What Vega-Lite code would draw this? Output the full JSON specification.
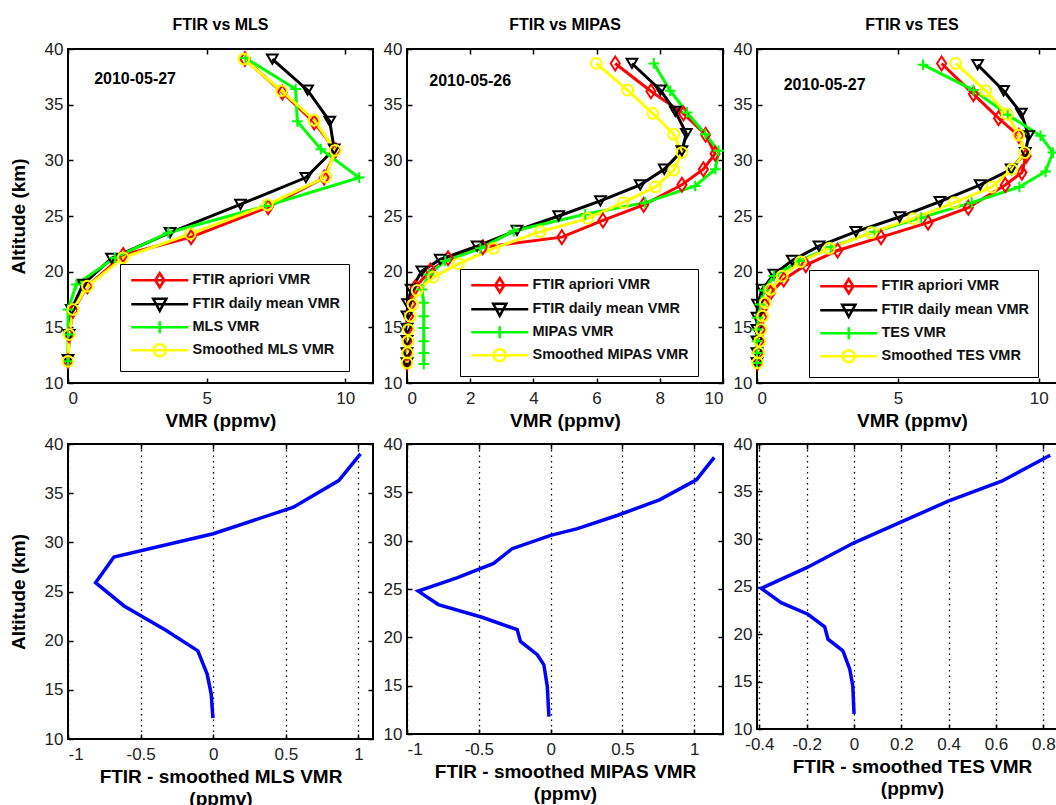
{
"$schema": "https://vega.github.io/schema/vega-lite/v6.json",
"background": "white",
"padding": {"left": 8, "top": 16, "right": 0, "bottom": 0},
"config": {
 "font": "Liberation Sans",
 "view": {"stroke": "black", "strokeWidth": 2},
 "axis": {"domain": false, "labelFont": "Liberation Sans", "labelFontSize": 17, "labelColor": "#222", "tickColor": "black", "tickSize": -5, "tickWidth": 1.5, "titleFont": "Liberation Sans", "titleFontSize": 19, "titleFontWeight": "bold", "titleColor": "black", "grid": false},
 "axisX": {"grid": true, "gridColor": "black", "gridDash": [1.5, 4], "gridWidth": 1.3, "labelPadding": 12, "titlePadding": 5, "titleLineHeight": 22},
 "axisY": {"labelPadding": 10, "titlePadding": 16},
 "title": {"font": "Liberation Sans", "fontSize": 16, "fontWeight": "bold", "color": "black", "offset": 7},
 "legend": {"labelFont": "Liberation Sans", "labelFontSize": 14.5, "labelFontWeight": "bold", "labelColor": "#111", "labelLimit": 400, "strokeColor": "black", "fillColor": "white", "padding": 9, "symbolSize": 100, "symbolStrokeWidth": 2.6, "symbolOpacity": 1, "labelOffset": 49, "rowPadding": 0}
},
"datasets": {
 "mls": [
  {"s":"FTIR apriori VMR","alt":39.1,"v":6.38},{"s":"FTIR apriori VMR","alt":36.1,"v":7.73},{"s":"FTIR apriori VMR","alt":33.4,"v":8.88},{"s":"FTIR apriori VMR","alt":30.9,"v":9.66},{"s":"FTIR apriori VMR","alt":28.45,"v":9.24},{"s":"FTIR apriori VMR","alt":25.8,"v":7.22},{"s":"FTIR apriori VMR","alt":23.1,"v":4.44},{"s":"FTIR apriori VMR","alt":21.5,"v":1.99},{"s":"FTIR apriori VMR","alt":18.7,"v":0.7},{"s":"FTIR apriori VMR","alt":16.5,"v":0.18},{"s":"FTIR apriori VMR","alt":14.3,"v":0.04},{"s":"FTIR apriori VMR","alt":11.95,"v":0.0},
  {"s":"FTIR daily mean VMR","alt":39.1,"v":7.37},{"s":"FTIR daily mean VMR","alt":36.3,"v":8.64},{"s":"FTIR daily mean VMR","alt":33.5,"v":9.44},{"s":"FTIR daily mean VMR","alt":31.0,"v":9.6},{"s":"FTIR daily mean VMR","alt":28.45,"v":8.58},{"s":"FTIR daily mean VMR","alt":26.05,"v":6.22},{"s":"FTIR daily mean VMR","alt":23.5,"v":3.68},{"s":"FTIR daily mean VMR","alt":21.2,"v":1.57},{"s":"FTIR daily mean VMR","alt":18.85,"v":0.54},{"s":"FTIR daily mean VMR","alt":16.6,"v":0.12},{"s":"FTIR daily mean VMR","alt":14.35,"v":0.04},{"s":"FTIR daily mean VMR","alt":12.1,"v":0.0},
  {"s":"MLS VMR","alt":39.2,"v":6.4},{"s":"MLS VMR","alt":36.4,"v":8.21},{"s":"MLS VMR","alt":33.5,"v":8.27},{"s":"MLS VMR","alt":31.0,"v":9.12},{"s":"MLS VMR","alt":28.45,"v":10.5},{"s":"MLS VMR","alt":25.9,"v":7.13},{"s":"MLS VMR","alt":23.5,"v":3.62},{"s":"MLS VMR","alt":21.25,"v":1.69},{"s":"MLS VMR","alt":18.85,"v":0.3},{"s":"MLS VMR","alt":16.6,"v":0.0},{"s":"MLS VMR","alt":14.35,"v":0.0},{"s":"MLS VMR","alt":11.95,"v":0.0},
  {"s":"Smoothed MLS VMR","alt":39.1,"v":6.34},{"s":"Smoothed MLS VMR","alt":36.25,"v":7.7},{"s":"Smoothed MLS VMR","alt":33.6,"v":8.88},{"s":"Smoothed MLS VMR","alt":30.9,"v":9.64},{"s":"Smoothed MLS VMR","alt":28.5,"v":9.3},{"s":"Smoothed MLS VMR","alt":26.0,"v":7.19},{"s":"Smoothed MLS VMR","alt":23.4,"v":4.41},{"s":"Smoothed MLS VMR","alt":21.25,"v":1.99},{"s":"Smoothed MLS VMR","alt":18.7,"v":0.7},{"s":"Smoothed MLS VMR","alt":16.6,"v":0.18},{"s":"Smoothed MLS VMR","alt":14.35,"v":0.04},{"s":"Smoothed MLS VMR","alt":11.95,"v":0.0}
 ],
 "mipas": [
  {"s":"FTIR apriori VMR","alt":38.7,"v":6.59},{"s":"FTIR apriori VMR","alt":36.2,"v":7.72},{"s":"FTIR apriori VMR","alt":34.2,"v":8.75},{"s":"FTIR apriori VMR","alt":32.3,"v":9.45},{"s":"FTIR apriori VMR","alt":30.6,"v":9.75},{"s":"FTIR apriori VMR","alt":29.2,"v":9.38},{"s":"FTIR apriori VMR","alt":27.8,"v":8.7},{"s":"FTIR apriori VMR","alt":26.0,"v":7.49},{"s":"FTIR apriori VMR","alt":24.6,"v":6.2},{"s":"FTIR apriori VMR","alt":23.1,"v":4.9},{"s":"FTIR apriori VMR","alt":22.2,"v":2.4},{"s":"FTIR apriori VMR","alt":21.2,"v":1.3},{"s":"FTIR apriori VMR","alt":20.1,"v":0.74},{"s":"FTIR apriori VMR","alt":18.6,"v":0.26},{"s":"FTIR apriori VMR","alt":17.1,"v":0.12},{"s":"FTIR apriori VMR","alt":16.0,"v":0.05},{"s":"FTIR apriori VMR","alt":14.9,"v":0.02},{"s":"FTIR apriori VMR","alt":13.8,"v":0.01},{"s":"FTIR apriori VMR","alt":12.7,"v":0.0},{"s":"FTIR apriori VMR","alt":11.8,"v":0.0},
  {"s":"FTIR daily mean VMR","alt":38.7,"v":7.12},{"s":"FTIR daily mean VMR","alt":36.3,"v":8.02},{"s":"FTIR daily mean VMR","alt":34.4,"v":8.49},{"s":"FTIR daily mean VMR","alt":32.4,"v":8.84},{"s":"FTIR daily mean VMR","alt":30.85,"v":8.7},{"s":"FTIR daily mean VMR","alt":29.2,"v":8.14},{"s":"FTIR daily mean VMR","alt":27.8,"v":7.38},{"s":"FTIR daily mean VMR","alt":26.35,"v":6.12},{"s":"FTIR daily mean VMR","alt":25.0,"v":4.8},{"s":"FTIR daily mean VMR","alt":23.7,"v":3.48},{"s":"FTIR daily mean VMR","alt":22.3,"v":2.22},{"s":"FTIR daily mean VMR","alt":21.1,"v":1.05},{"s":"FTIR daily mean VMR","alt":20.05,"v":0.47},{"s":"FTIR daily mean VMR","alt":18.4,"v":0.13},{"s":"FTIR daily mean VMR","alt":17.1,"v":0.02},{"s":"FTIR daily mean VMR","alt":16.0,"v":0.0},{"s":"FTIR daily mean VMR","alt":14.9,"v":0.0},{"s":"FTIR daily mean VMR","alt":13.8,"v":0.0},{"s":"FTIR daily mean VMR","alt":12.7,"v":0.0},{"s":"FTIR daily mean VMR","alt":11.8,"v":0.0},
  {"s":"MIPAS VMR","alt":38.7,"v":7.81},{"s":"MIPAS VMR","alt":36.25,"v":8.33},{"s":"MIPAS VMR","alt":34.3,"v":8.86},{"s":"MIPAS VMR","alt":32.35,"v":9.44},{"s":"MIPAS VMR","alt":30.85,"v":9.86},{"s":"MIPAS VMR","alt":29.2,"v":9.76},{"s":"MIPAS VMR","alt":27.7,"v":9.12},{"s":"MIPAS VMR","alt":26.2,"v":7.54},{"s":"MIPAS VMR","alt":25.15,"v":5.64},{"s":"MIPAS VMR","alt":23.65,"v":3.38},{"s":"MIPAS VMR","alt":22.1,"v":2.32},{"s":"MIPAS VMR","alt":20.95,"v":1.21},{"s":"MIPAS VMR","alt":19.75,"v":0.69},{"s":"MIPAS VMR","alt":18.4,"v":0.47},{"s":"MIPAS VMR","alt":17.2,"v":0.53},{"s":"MIPAS VMR","alt":16.0,"v":0.53},{"s":"MIPAS VMR","alt":14.95,"v":0.53},{"s":"MIPAS VMR","alt":13.75,"v":0.53},{"s":"MIPAS VMR","alt":12.7,"v":0.53},{"s":"MIPAS VMR","alt":11.7,"v":0.53},
  {"s":"Smoothed MIPAS VMR","alt":38.71,"v":5.99},{"s":"Smoothed MIPAS VMR","alt":36.31,"v":6.98},{"s":"Smoothed MIPAS VMR","alt":34.21,"v":7.78},{"s":"Smoothed MIPAS VMR","alt":32.35,"v":8.44},{"s":"Smoothed MIPAS VMR","alt":30.7,"v":8.7},{"s":"Smoothed MIPAS VMR","alt":29.11,"v":8.44},{"s":"Smoothed MIPAS VMR","alt":27.61,"v":7.86},{"s":"Smoothed MIPAS VMR","alt":26.2,"v":6.84},{"s":"Smoothed MIPAS VMR","alt":24.79,"v":5.72},{"s":"Smoothed MIPAS VMR","alt":23.59,"v":4.22},{"s":"Smoothed MIPAS VMR","alt":22.09,"v":2.74},{"s":"Smoothed MIPAS VMR","alt":20.71,"v":1.63},{"s":"Smoothed MIPAS VMR","alt":19.51,"v":0.84},{"s":"Smoothed MIPAS VMR","alt":18.31,"v":0.32},{"s":"Smoothed MIPAS VMR","alt":17.05,"v":0.19},{"s":"Smoothed MIPAS VMR","alt":16.0,"v":0.11},{"s":"Smoothed MIPAS VMR","alt":14.8,"v":0.05},{"s":"Smoothed MIPAS VMR","alt":13.75,"v":0.03},{"s":"Smoothed MIPAS VMR","alt":12.7,"v":0.02},{"s":"Smoothed MIPAS VMR","alt":11.8,"v":0.0}
 ],
 "tes": [
  {"s":"FTIR apriori VMR","alt":38.7,"v":6.55},{"s":"FTIR apriori VMR","alt":35.95,"v":7.68},{"s":"FTIR apriori VMR","alt":33.79,"v":8.57},{"s":"FTIR apriori VMR","alt":32.2,"v":9.29},{"s":"FTIR apriori VMR","alt":30.4,"v":9.55},{"s":"FTIR apriori VMR","alt":28.9,"v":9.4},{"s":"FTIR apriori VMR","alt":27.79,"v":8.81},{"s":"FTIR apriori VMR","alt":25.75,"v":7.5},{"s":"FTIR apriori VMR","alt":24.4,"v":6.07},{"s":"FTIR apriori VMR","alt":23.1,"v":4.4},{"s":"FTIR apriori VMR","alt":21.9,"v":2.86},{"s":"FTIR apriori VMR","alt":20.59,"v":1.73},{"s":"FTIR apriori VMR","alt":19.3,"v":0.95},{"s":"FTIR apriori VMR","alt":18.1,"v":0.48},{"s":"FTIR apriori VMR","alt":17.0,"v":0.28},{"s":"FTIR apriori VMR","alt":15.9,"v":0.18},{"s":"FTIR apriori VMR","alt":14.8,"v":0.12},{"s":"FTIR apriori VMR","alt":13.75,"v":0.08},{"s":"FTIR apriori VMR","alt":12.7,"v":0.05},{"s":"FTIR apriori VMR","alt":11.8,"v":0.02},
  {"s":"FTIR daily mean VMR","alt":38.59,"v":7.83},{"s":"FTIR daily mean VMR","alt":36.25,"v":8.75},{"s":"FTIR daily mean VMR","alt":34.21,"v":9.38},{"s":"FTIR daily mean VMR","alt":32.2,"v":9.64},{"s":"FTIR daily mean VMR","alt":30.7,"v":9.52},{"s":"FTIR daily mean VMR","alt":29.2,"v":9.02},{"s":"FTIR daily mean VMR","alt":27.79,"v":7.92},{"s":"FTIR daily mean VMR","alt":26.29,"v":6.49},{"s":"FTIR daily mean VMR","alt":24.91,"v":5.06},{"s":"FTIR daily mean VMR","alt":23.59,"v":3.51},{"s":"FTIR daily mean VMR","alt":22.3,"v":2.2},{"s":"FTIR daily mean VMR","alt":21.01,"v":1.25},{"s":"FTIR daily mean VMR","alt":19.75,"v":0.6},{"s":"FTIR daily mean VMR","alt":18.4,"v":0.18},{"s":"FTIR daily mean VMR","alt":17.05,"v":0.02},{"s":"FTIR daily mean VMR","alt":15.9,"v":0.0},{"s":"FTIR daily mean VMR","alt":14.8,"v":0.0},{"s":"FTIR daily mean VMR","alt":13.75,"v":0.0},{"s":"FTIR daily mean VMR","alt":12.7,"v":0.0},{"s":"FTIR daily mean VMR","alt":11.8,"v":0.0},
  {"s":"TES VMR","alt":38.59,"v":5.89},{"s":"TES VMR","alt":36.31,"v":7.68},{"s":"TES VMR","alt":34.09,"v":8.9},{"s":"TES VMR","alt":32.2,"v":10.06},{"s":"TES VMR","alt":30.7,"v":10.5},{"s":"TES VMR","alt":28.99,"v":10.24},{"s":"TES VMR","alt":27.61,"v":9.31},{"s":"TES VMR","alt":26.2,"v":7.62},{"s":"TES VMR","alt":24.85,"v":5.83},{"s":"TES VMR","alt":23.59,"v":4.17},{"s":"TES VMR","alt":22.21,"v":2.62},{"s":"TES VMR","alt":20.95,"v":1.49},{"s":"TES VMR","alt":19.6,"v":0.6},{"s":"TES VMR","alt":18.31,"v":0.24},{"s":"TES VMR","alt":17.05,"v":0.1},{"s":"TES VMR","alt":15.85,"v":0.02},{"s":"TES VMR","alt":14.8,"v":0.0},{"s":"TES VMR","alt":13.75,"v":0.0},{"s":"TES VMR","alt":12.7,"v":0.0},{"s":"TES VMR","alt":11.8,"v":0.0},
  {"s":"Smoothed TES VMR","alt":38.7,"v":7.05},{"s":"Smoothed TES VMR","alt":36.25,"v":8.12},{"s":"Smoothed TES VMR","alt":34.15,"v":8.87},{"s":"Smoothed TES VMR","alt":32.26,"v":9.29},{"s":"Smoothed TES VMR","alt":30.7,"v":9.5},{"s":"Smoothed TES VMR","alt":29.2,"v":9.05},{"s":"Smoothed TES VMR","alt":27.6,"v":8.33},{"s":"Smoothed TES VMR","alt":26.2,"v":7.0},{"s":"Smoothed TES VMR","alt":24.76,"v":5.54},{"s":"Smoothed TES VMR","alt":23.5,"v":4.05},{"s":"Smoothed TES VMR","alt":22.09,"v":2.56},{"s":"Smoothed TES VMR","alt":20.89,"v":1.55},{"s":"Smoothed TES VMR","alt":19.6,"v":0.89},{"s":"Smoothed TES VMR","alt":18.4,"v":0.48},{"s":"Smoothed TES VMR","alt":17.2,"v":0.3},{"s":"Smoothed TES VMR","alt":16.0,"v":0.2},{"s":"Smoothed TES VMR","alt":14.8,"v":0.14},{"s":"Smoothed TES VMR","alt":13.75,"v":0.1},{"s":"Smoothed TES VMR","alt":12.7,"v":0.06},{"s":"Smoothed TES VMR","alt":11.8,"v":0.02}
 ],
 "dmls": [
  {"alt":38.99,"v":1.014},{"alt":36.28,"v":0.864},{"alt":33.57,"v":0.552},{"alt":30.87,"v":0.0},{"alt":28.5,"v":-0.684},{"alt":25.9,"v":-0.81},{"alt":23.53,"v":-0.614},{"alt":21.06,"v":-0.326},{"alt":18.97,"v":-0.106},{"alt":16.6,"v":-0.042},{"alt":14.57,"v":-0.014},{"alt":12.13,"v":-0.002}
 ],
 "dmipas": [
  {"alt":38.62,"v":1.139},{"alt":36.3,"v":1.015},{"alt":34.22,"v":0.758},{"alt":32.63,"v":0.467},{"alt":31.25,"v":0.187},{"alt":30.55,"v":0.0},{"alt":29.17,"v":-0.268},{"alt":27.65,"v":-0.397},{"alt":26.16,"v":-0.653},{"alt":24.78,"v":-0.922},{"alt":23.39,"v":-0.782},{"alt":22.08,"v":-0.478},{"alt":20.8,"v":-0.233},{"alt":19.58,"v":-0.21},{"alt":18.2,"v":-0.093},{"alt":17.16,"v":-0.047},{"alt":14.9,"v":-0.023},{"alt":11.8,"v":-0.012}
 ],
 "dtes": [
  {"alt":38.81,"v":0.829},{"alt":36.08,"v":0.624},{"alt":33.98,"v":0.398},{"alt":31.8,"v":0.2},{"alt":29.6,"v":0.0},{"alt":26.98,"v":-0.2},{"alt":24.81,"v":-0.392},{"alt":23.3,"v":-0.308},{"alt":22.08,"v":-0.195},{"alt":20.75,"v":-0.124},{"alt":19.45,"v":-0.11},{"alt":18.23,"v":-0.047},{"alt":16.3,"v":-0.018},{"alt":14.5,"v":-0.005},{"alt":11.58,"v":0.0}
 ]
},
"columns": 3,
"spacing": {"row": 61, "column": 34},
"bounds": "flush",
"resolve": {"scale": {"color": "independent", "shape": "independent"}, "legend": {"color": "independent", "shape": "independent"}},
"concat": [
 {
  "width": 305, "height": 334,
  "title": {"text": "FTIR vs MLS"},
  "data": {"name": "mls"},
  "resolve": {"axis": {"x": "independent", "y": "independent"}},
  "layer": [
   {"mark": {"type": "point", "filled": false, "opacity": 0},
    "encoding": {
     "x": {"field": "v", "type": "quantitative", "axis": null},
     "y": {"field": "alt", "type": "quantitative", "axis": null},
     "color": {"field": "s", "type": "nominal", "legend": {"orient": "none", "legendX": 52, "legendY": 215, "direction": "vertical", "title": null, "symbolOpacity": 1}},
     "shape": {"field": "s", "type": "nominal", "scale": {"domain": ["FTIR apriori VMR", "FTIR daily mean VMR", "MLS VMR", "Smoothed MLS VMR"], "range": ["M-1,0H10.4M4.7,-1.4L5.6,0L4.7,1.4L3.8,0Z", "M-1,0H10.4M3.4,-1.1H6L4.7,1.3Z", "M-1,0H10.4M4.7,-1.2V1.2", "M-1,0H10.4M5.9,0A1.2,1.2,0,1,1,3.5,0A1.2,1.2,0,1,1,5.9,0"]}, "legend": {"orient": "none", "legendX": 52, "legendY": 215, "direction": "vertical", "title": null, "symbolOpacity": 1}}
    }},
   {"mark": {"type": "line", "strokeWidth": 3},
    "encoding": {
     "x": {"field": "v", "type": "quantitative", "scale": {"domain": [0, 11], "nice": false, "zero": false}, "axis": {"values": [0, 5, 10], "title": "VMR (ppmv)"}},
     "y": {"field": "alt", "type": "quantitative", "scale": {"domain": [10, 40], "nice": false, "zero": false}, "axis": {"values": [10, 15, 20, 25, 30, 35, 40], "title": "Altitude (km)"}},
     "order": {"field": "alt", "type": "quantitative"},
     "color": {"field": "s", "type": "nominal", "scale": {"domain": ["FTIR apriori VMR", "FTIR daily mean VMR", "MLS VMR", "Smoothed MLS VMR"], "range": ["#ff0000", "#000000", "#00ff00", "#ffff00"]}}
    }},
   {"transform": [{"filter": {"field": "s", "equal": "FTIR apriori VMR"}}],
    "mark": {"type": "point", "filled": false, "strokeWidth": 2, "size": 115, "opacity": 1, "color": "#ff0000", "shape": "M0,-1.3L0.85,0L0,1.3L-0.85,0Z"},
    "encoding": {"x": {"field": "v", "type": "quantitative", "axis": null}, "y": {"field": "alt", "type": "quantitative", "axis": null}}},
   {"transform": [{"filter": {"field": "s", "equal": "FTIR daily mean VMR"}}],
    "mark": {"type": "point", "filled": false, "strokeWidth": 2, "size": 115, "opacity": 1, "color": "#000000", "shape": "triangle-down"},
    "encoding": {"x": {"field": "v", "type": "quantitative", "axis": null}, "y": {"field": "alt", "type": "quantitative", "axis": null}}},
   {"transform": [{"filter": {"field": "s", "equal": "MLS VMR"}}],
    "mark": {"type": "point", "filled": false, "strokeWidth": 2, "size": 115, "opacity": 1, "color": "#00ff00", "shape": "M-1,0H1M0,-1V1"},
    "encoding": {"x": {"field": "v", "type": "quantitative", "axis": null}, "y": {"field": "alt", "type": "quantitative", "axis": null}}},
   {"transform": [{"filter": {"field": "s", "equal": "Smoothed MLS VMR"}}],
    "mark": {"type": "point", "filled": false, "strokeWidth": 2, "size": 115, "opacity": 1, "color": "#ffff00", "shape": "circle"},
    "encoding": {"x": {"field": "v", "type": "quantitative", "axis": null}, "y": {"field": "alt", "type": "quantitative", "axis": null}}},
   {"data": {"values": [{"t": "2010-05-27"}]},
    "mark": {"type": "text", "fontWeight": "bold", "fontSize": 16, "font": "Liberation Sans", "color": "black", "align": "center", "baseline": "middle"},
    "encoding": {"x": {"datum": 2.42, "type": "quantitative", "axis": {"orient": "top", "labels": false, "title": null, "grid": false, "values": [0, 5, 10]}}, "y": {"datum": 37.3, "type": "quantitative", "axis": {"orient": "right", "labels": false, "title": null, "values": [10, 15, 20, 25, 30, 35, 40]}}, "text": {"field": "t"}}}
  ]
 },
 {
  "width": 316, "height": 334,
  "title": {"text": "FTIR vs MIPAS"},
  "data": {"name": "mipas"},
  "resolve": {"axis": {"x": "independent", "y": "independent"}},
  "layer": [
   {"mark": {"type": "point", "filled": false, "opacity": 0},
    "encoding": {
     "x": {"field": "v", "type": "quantitative", "axis": null},
     "y": {"field": "alt", "type": "quantitative", "axis": null},
     "color": {"field": "s", "type": "nominal", "legend": {"orient": "none", "legendX": 53, "legendY": 220, "direction": "vertical", "title": null, "symbolOpacity": 1}},
     "shape": {"field": "s", "type": "nominal", "scale": {"domain": ["FTIR apriori VMR", "FTIR daily mean VMR", "MIPAS VMR", "Smoothed MIPAS VMR"], "range": ["M-1,0H10.4M4.7,-1.4L5.6,0L4.7,1.4L3.8,0Z", "M-1,0H10.4M3.4,-1.1H6L4.7,1.3Z", "M-1,0H10.4M4.7,-1.2V1.2", "M-1,0H10.4M5.9,0A1.2,1.2,0,1,1,3.5,0A1.2,1.2,0,1,1,5.9,0"]}, "legend": {"orient": "none", "legendX": 53, "legendY": 220, "direction": "vertical", "title": null, "symbolOpacity": 1}}
    }},
   {"mark": {"type": "line", "strokeWidth": 3},
    "encoding": {
     "x": {"field": "v", "type": "quantitative", "scale": {"domain": [0, 10], "nice": false, "zero": false}, "axis": {"values": [0, 2, 4, 6, 8, 10], "title": "VMR (ppmv)"}},
     "y": {"field": "alt", "type": "quantitative", "scale": {"domain": [10, 40], "nice": false, "zero": false}, "axis": {"values": [10, 15, 20, 25, 30, 35, 40], "title": null}},
     "order": {"field": "alt", "type": "quantitative"},
     "color": {"field": "s", "type": "nominal", "scale": {"domain": ["FTIR apriori VMR", "FTIR daily mean VMR", "MIPAS VMR", "Smoothed MIPAS VMR"], "range": ["#ff0000", "#000000", "#00ff00", "#ffff00"]}}
    }},
   {"transform": [{"filter": {"field": "s", "equal": "FTIR apriori VMR"}}],
    "mark": {"type": "point", "filled": false, "strokeWidth": 2, "size": 115, "opacity": 1, "color": "#ff0000", "shape": "M0,-1.3L0.85,0L0,1.3L-0.85,0Z"},
    "encoding": {"x": {"field": "v", "type": "quantitative", "axis": null}, "y": {"field": "alt", "type": "quantitative", "axis": null}}},
   {"transform": [{"filter": {"field": "s", "equal": "FTIR daily mean VMR"}}],
    "mark": {"type": "point", "filled": false, "strokeWidth": 2, "size": 115, "opacity": 1, "color": "#000000", "shape": "triangle-down"},
    "encoding": {"x": {"field": "v", "type": "quantitative", "axis": null}, "y": {"field": "alt", "type": "quantitative", "axis": null}}},
   {"transform": [{"filter": {"field": "s", "equal": "MIPAS VMR"}}],
    "mark": {"type": "point", "filled": false, "strokeWidth": 2, "size": 115, "opacity": 1, "color": "#00ff00", "shape": "M-1,0H1M0,-1V1"},
    "encoding": {"x": {"field": "v", "type": "quantitative", "axis": null}, "y": {"field": "alt", "type": "quantitative", "axis": null}}},
   {"transform": [{"filter": {"field": "s", "equal": "Smoothed MIPAS VMR"}}],
    "mark": {"type": "point", "filled": false, "strokeWidth": 2, "size": 115, "opacity": 1, "color": "#ffff00", "shape": "circle"},
    "encoding": {"x": {"field": "v", "type": "quantitative", "axis": null}, "y": {"field": "alt", "type": "quantitative", "axis": null}}},
   {"data": {"values": [{"t": "2010-05-26"}]},
    "mark": {"type": "text", "fontWeight": "bold", "fontSize": 16, "font": "Liberation Sans", "color": "black", "align": "center", "baseline": "middle"},
    "encoding": {"x": {"datum": 2.0, "type": "quantitative", "axis": {"orient": "top", "labels": false, "title": null, "grid": false, "values": [0, 2, 4, 6, 8, 10]}}, "y": {"datum": 37.1, "type": "quantitative", "axis": {"orient": "right", "labels": false, "title": null, "values": [10, 15, 20, 25, 30, 35, 40]}}, "text": {"field": "t"}}}
  ]
 },
 {
  "width": 310, "height": 334,
  "title": {"text": "FTIR vs TES"},
  "data": {"name": "tes"},
  "resolve": {"axis": {"x": "independent", "y": "independent"}},
  "layer": [
   {"mark": {"type": "point", "filled": false, "opacity": 0},
    "encoding": {
     "x": {"field": "v", "type": "quantitative", "axis": null},
     "y": {"field": "alt", "type": "quantitative", "axis": null},
     "color": {"field": "s", "type": "nominal", "legend": {"orient": "none", "legendX": 52, "legendY": 221, "direction": "vertical", "title": null, "symbolOpacity": 1}},
     "shape": {"field": "s", "type": "nominal", "scale": {"domain": ["FTIR apriori VMR", "FTIR daily mean VMR", "TES VMR", "Smoothed TES VMR"], "range": ["M-1,0H10.4M4.7,-1.4L5.6,0L4.7,1.4L3.8,0Z", "M-1,0H10.4M3.4,-1.1H6L4.7,1.3Z", "M-1,0H10.4M4.7,-1.2V1.2", "M-1,0H10.4M5.9,0A1.2,1.2,0,1,1,3.5,0A1.2,1.2,0,1,1,5.9,0"]}, "legend": {"orient": "none", "legendX": 52, "legendY": 221, "direction": "vertical", "title": null, "symbolOpacity": 1}}
    }},
   {"mark": {"type": "line", "strokeWidth": 3},
    "encoding": {
     "x": {"field": "v", "type": "quantitative", "scale": {"domain": [0, 11], "nice": false, "zero": false}, "axis": {"values": [0, 5, 10], "title": "VMR (ppmv)"}},
     "y": {"field": "alt", "type": "quantitative", "scale": {"domain": [10, 40], "nice": false, "zero": false}, "axis": {"values": [10, 15, 20, 25, 30, 35, 40], "title": null}},
     "order": {"field": "alt", "type": "quantitative"},
     "color": {"field": "s", "type": "nominal", "scale": {"domain": ["FTIR apriori VMR", "FTIR daily mean VMR", "TES VMR", "Smoothed TES VMR"], "range": ["#ff0000", "#000000", "#00ff00", "#ffff00"]}}
    }},
   {"transform": [{"filter": {"field": "s", "equal": "FTIR apriori VMR"}}],
    "mark": {"type": "point", "filled": false, "strokeWidth": 2, "size": 115, "opacity": 1, "color": "#ff0000", "shape": "M0,-1.3L0.85,0L0,1.3L-0.85,0Z"},
    "encoding": {"x": {"field": "v", "type": "quantitative", "axis": null}, "y": {"field": "alt", "type": "quantitative", "axis": null}}},
   {"transform": [{"filter": {"field": "s", "equal": "FTIR daily mean VMR"}}],
    "mark": {"type": "point", "filled": false, "strokeWidth": 2, "size": 115, "opacity": 1, "color": "#000000", "shape": "triangle-down"},
    "encoding": {"x": {"field": "v", "type": "quantitative", "axis": null}, "y": {"field": "alt", "type": "quantitative", "axis": null}}},
   {"transform": [{"filter": {"field": "s", "equal": "TES VMR"}}],
    "mark": {"type": "point", "filled": false, "strokeWidth": 2, "size": 115, "opacity": 1, "color": "#00ff00", "shape": "M-1,0H1M0,-1V1"},
    "encoding": {"x": {"field": "v", "type": "quantitative", "axis": null}, "y": {"field": "alt", "type": "quantitative", "axis": null}}},
   {"transform": [{"filter": {"field": "s", "equal": "Smoothed TES VMR"}}],
    "mark": {"type": "point", "filled": false, "strokeWidth": 2, "size": 115, "opacity": 1, "color": "#ffff00", "shape": "circle"},
    "encoding": {"x": {"field": "v", "type": "quantitative", "axis": null}, "y": {"field": "alt", "type": "quantitative", "axis": null}}},
   {"data": {"values": [{"t": "2010-05-27"}]},
    "mark": {"type": "text", "fontWeight": "bold", "fontSize": 16, "font": "Liberation Sans", "color": "black", "align": "center", "baseline": "middle"},
    "encoding": {"x": {"datum": 2.4, "type": "quantitative", "axis": {"orient": "top", "labels": false, "title": null, "grid": false, "values": [0, 5, 10]}}, "y": {"datum": 36.8, "type": "quantitative", "axis": {"orient": "right", "labels": false, "title": null, "values": [10, 15, 20, 25, 30, 35, 40]}}, "text": {"field": "t"}}}
  ]
 },
 {
  "width": 305, "height": 295,
  "data": {"name": "dmls"},
  "resolve": {"axis": {"x": "independent", "y": "independent"}},
  "layer": [
   {"mark": {"type": "line", "color": "#0000ff", "strokeWidth": 3.5},
    "encoding": {
     "x": {"field": "v", "type": "quantitative", "scale": {"domain": [-1, 1.1], "nice": false, "zero": false}, "axis": {"values": [-1, -0.5, 0, 0.5, 1], "labelExpr": "'' + datum.value", "title": ["FTIR - smoothed MLS VMR", "(ppmv)"]}},
     "y": {"field": "alt", "type": "quantitative", "scale": {"domain": [10, 40], "nice": false, "zero": false}, "axis": {"values": [10, 15, 20, 25, 30, 35, 40], "title": "Altitude (km)"}},
     "order": {"field": "alt", "type": "quantitative"}
    }},
   {"mark": {"type": "line", "opacity": 0},
    "encoding": {
     "x": {"field": "v", "type": "quantitative", "axis": {"orient": "top", "labels": false, "title": null, "grid": false, "values": [-1, -0.5, 0, 0.5, 1]}},
     "y": {"field": "alt", "type": "quantitative", "axis": {"orient": "right", "labels": false, "title": null, "values": [10, 15, 20, 25, 30, 35, 40]}},
     "order": {"field": "alt", "type": "quantitative"}
    }}
  ]
 },
 {
  "width": 316, "height": 290,
  "data": {"name": "dmipas"},
  "resolve": {"axis": {"x": "independent", "y": "independent"}},
  "layer": [
   {"mark": {"type": "line", "color": "#0000ff", "strokeWidth": 3.5},
    "encoding": {
     "x": {"field": "v", "type": "quantitative", "scale": {"domain": [-1, 1.2], "nice": false, "zero": false}, "axis": {"values": [-1, -0.5, 0, 0.5, 1], "labelExpr": "'' + datum.value", "title": ["FTIR - smoothed MIPAS VMR", "(ppmv)"]}},
     "y": {"field": "alt", "type": "quantitative", "scale": {"domain": [10, 40], "nice": false, "zero": false}, "axis": {"values": [10, 15, 20, 25, 30, 35, 40], "title": null}},
     "order": {"field": "alt", "type": "quantitative"}
    }},
   {"mark": {"type": "line", "opacity": 0},
    "encoding": {
     "x": {"field": "v", "type": "quantitative", "axis": {"orient": "top", "labels": false, "title": null, "grid": false, "values": [-1, -0.5, 0, 0.5, 1]}},
     "y": {"field": "alt", "type": "quantitative", "axis": {"orient": "right", "labels": false, "title": null, "values": [10, 15, 20, 25, 30, 35, 40]}},
     "order": {"field": "alt", "type": "quantitative"}
    }}
  ]
 },
 {
  "width": 310, "height": 285,
  "data": {"name": "dtes"},
  "resolve": {"axis": {"x": "independent", "y": "independent"}},
  "layer": [
   {"mark": {"type": "line", "color": "#0000ff", "strokeWidth": 3.5},
    "encoding": {
     "x": {"field": "v", "type": "quantitative", "scale": {"domain": [-0.41, 0.9], "nice": false, "zero": false}, "axis": {"values": [-0.4, -0.2, 0, 0.2, 0.4, 0.6, 0.8], "labelExpr": "'' + datum.value", "title": ["FTIR - smoothed TES VMR", "(ppmv)"]}},
     "y": {"field": "alt", "type": "quantitative", "scale": {"domain": [10, 40], "nice": false, "zero": false}, "axis": {"values": [10, 15, 20, 25, 30, 35, 40], "title": null}},
     "order": {"field": "alt", "type": "quantitative"}
    }},
   {"mark": {"type": "line", "opacity": 0},
    "encoding": {
     "x": {"field": "v", "type": "quantitative", "axis": {"orient": "top", "labels": false, "title": null, "grid": false, "values": [-0.4, -0.2, 0, 0.2, 0.4, 0.6, 0.8]}},
     "y": {"field": "alt", "type": "quantitative", "axis": {"orient": "right", "labels": false, "title": null, "values": [10, 15, 20, 25, 30, 35, 40]}},
     "order": {"field": "alt", "type": "quantitative"}
    }}
  ]
 }
]
}
